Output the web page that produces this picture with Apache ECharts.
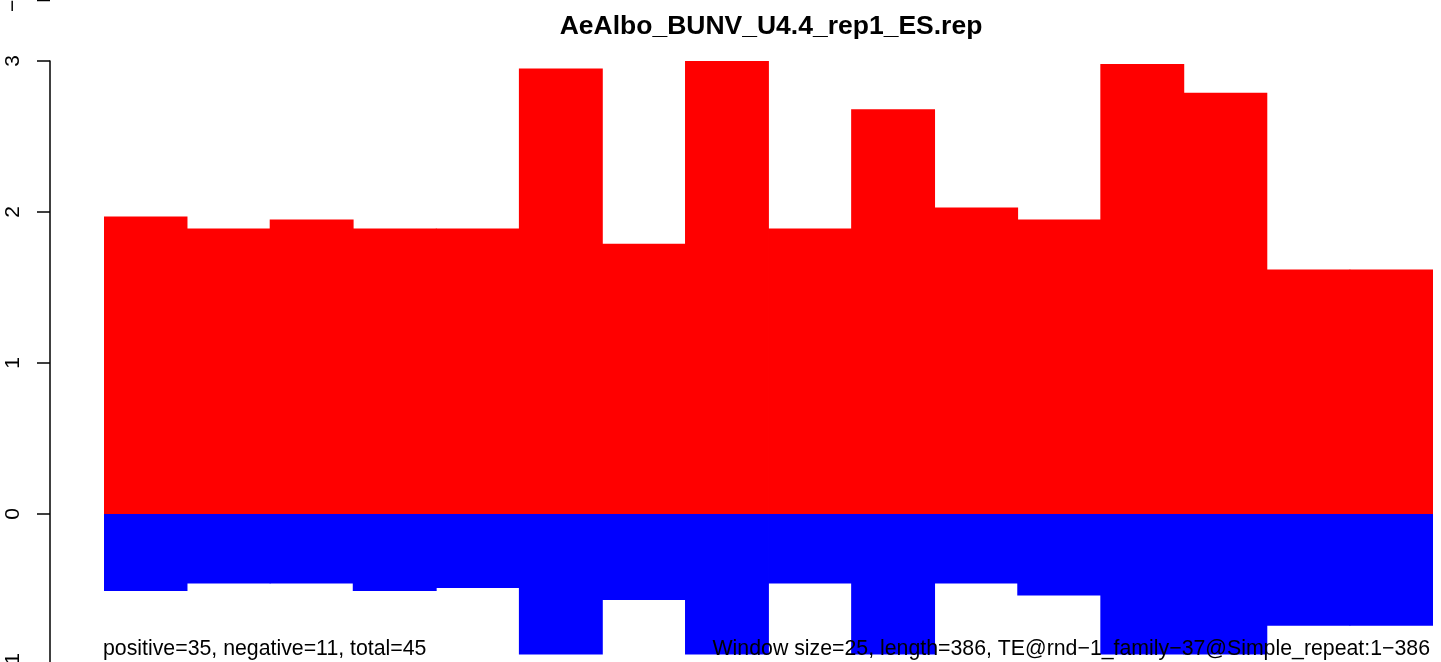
<!DOCTYPE html>
<html>
<head>
<meta charset="utf-8">
<script src="https://cdn.jsdelivr.net/npm/echarts@6/dist/echarts.min.js"></script>
<style>
html,body{margin:0;padding:0;background:#fff;}
#chart{width:1441px;height:662px;}
</style>
</head>
<body>
<div id="chart"></div>
<script>
const categories = ['1','2','3','4','5','6','7','8','9','10','11','12','13','14','15','16'];
const positiveValues = [1.97,1.89,1.95,1.89,1.89,2.95,1.79,3.0,1.89,2.68,2.03,1.95,2.98,2.79,1.62,1.62];
const negativeValues = [-0.51,-0.46,-0.46,-0.51,-0.49,-0.93,-0.57,-0.93,-0.46,-0.93,-0.46,-0.54,-0.93,-0.93,-0.74,-0.74];
const yTicks = {min:-1, max:3, interval:1};
const titleText = 'AeAlbo_BUNV_U4.4_rep1_ES.rep';
const leftNote = 'positive=35, negative=11, total=45';
const rightNote = 'Window size=25, length=386, TE@rnd\u22121_family\u221237@Simple_repeat:1\u2212386';

const FONT = '"Liberation Sans", Arial, Helvetica, sans-serif';
const chart = echarts.init(document.getElementById('chart'), null, {renderer:'canvas'});
chart.setOption({
  backgroundColor:'#ffffff',
  animation:false,
  title:[
    {text:titleText, left:766, top:8, textAlign:'center',
     textStyle:{fontFamily:FONT, fontWeight:'bold', fontSize:26.5, color:'#000'}},
  ],
  graphic:[
    {type:'text', left:103, top:639, z:100,
     style:{text:leftNote, font:'21.3px '+FONT, fill:'#000'}},
    {type:'text', right:11, top:639, z:100,
     style:{text:rightNote, font:'21.3px '+FONT, fill:'#000'}},
    {type:'line', shape:{x1:37,y1:0.5,x2:50,y2:0.5}, style:{stroke:'#000', lineWidth:1.5}},
    {type:'text', x:13, y:0, rotation:Math.PI/2,
     style:{text:'\u22121', font:'21px '+FONT, fill:'#000', align:'center', verticalAlign:'middle'}}
  ],
  grid:{left:104, width:1329, top:61, height:604, containLabel:false, outerBoundsMode:'none'},
  xAxis:{type:'category', data:categories, show:false, boundaryGap:true},
  yAxis:{type:'value', min:yTicks.min, max:yTicks.max, interval:yTicks.interval, offset:54,
    splitLine:{show:false},
    axisLine:{show:true, lineStyle:{color:'#000', width:1.5}},
    axisTick:{show:true, length:13, lineStyle:{color:'#000', width:1.5}},
    axisLabel:{rotate:90, margin:26, fontFamily:FONT, fontSize:21, color:'#000',
      formatter:function(v){return v<0 ? '\u2212'+Math.abs(v) : String(v);}}
  },
  series:[
    {type:'bar', data:positiveValues, barWidth:'101%', barGap:'-100%',
     itemStyle:{color:'#ff0000'}},
    {type:'bar', data:negativeValues, barWidth:'101%', barGap:'-100%',
     itemStyle:{color:'#0000ff'}}
  ]
});
</script>
</body>
</html>
